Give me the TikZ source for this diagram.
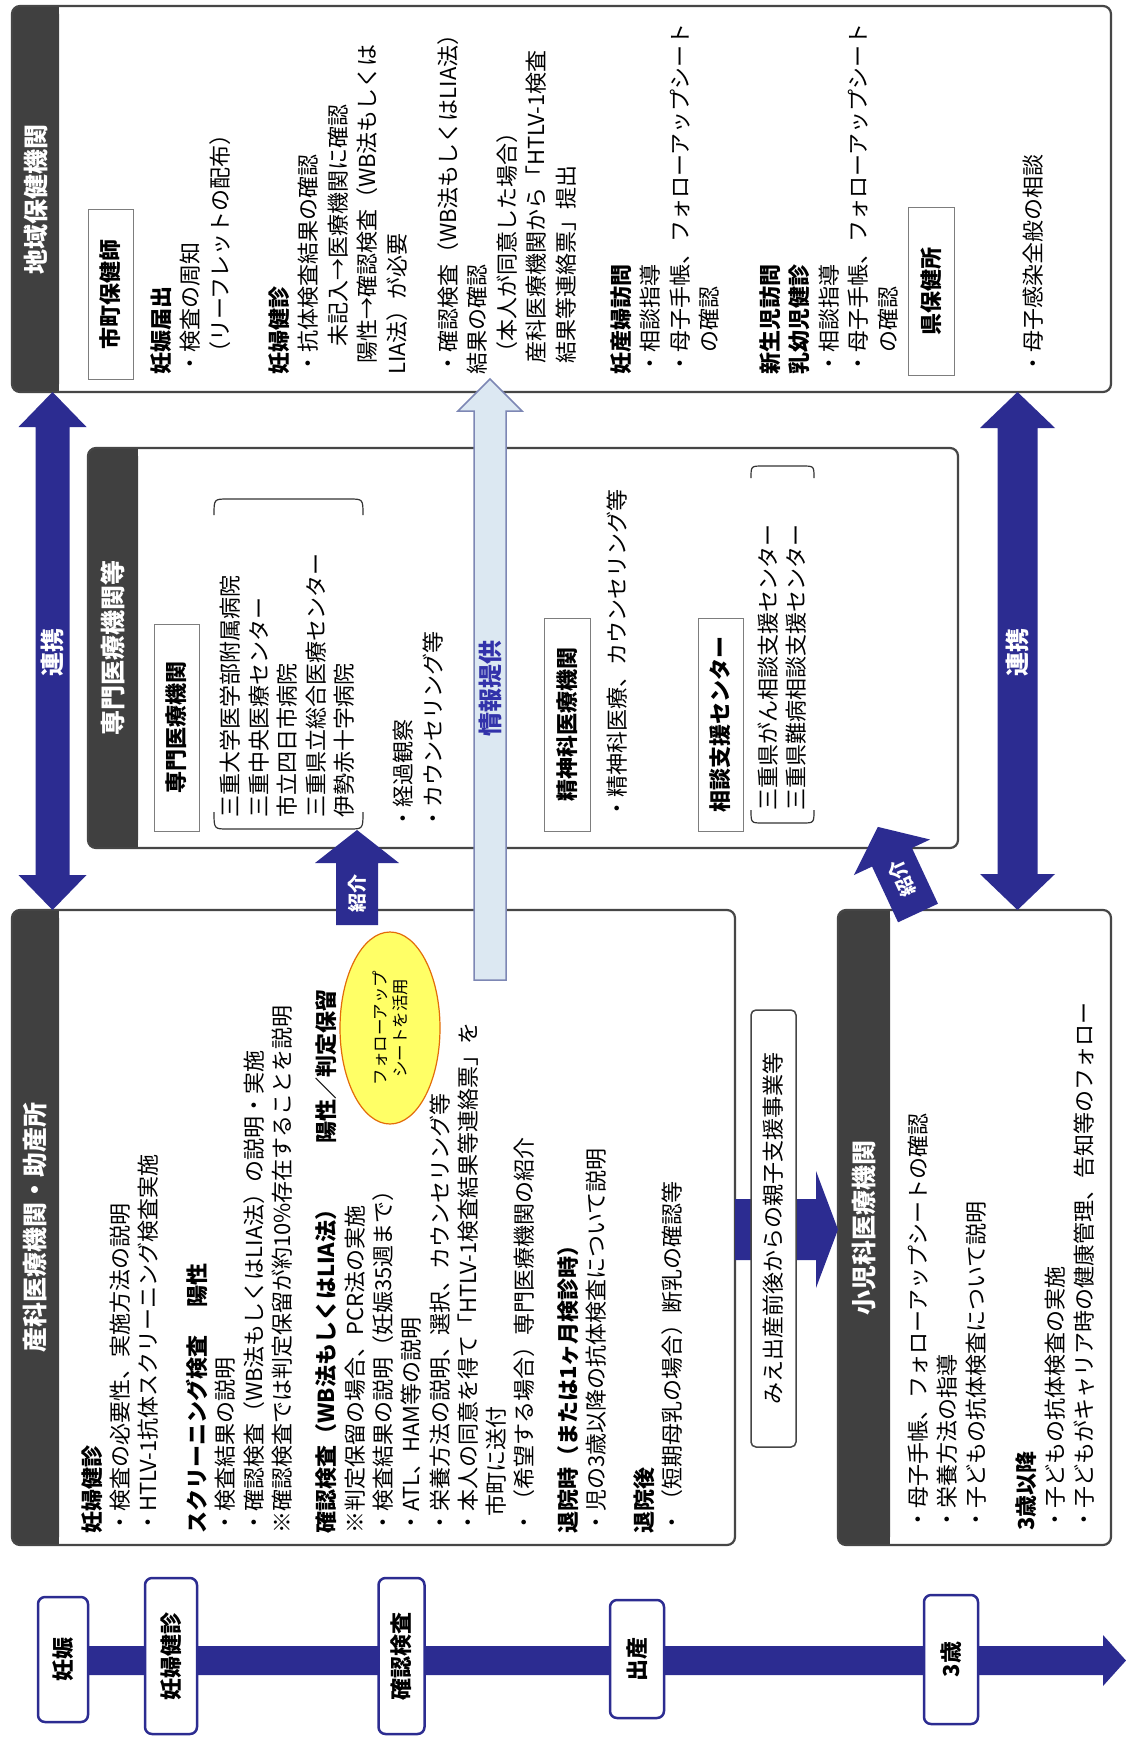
\documentclass[tikz,border=0pt]{standalone}
\usepackage{fontspec}
\setmainfont{Noto Sans CJK JP}
\usetikzlibrary{shapes.geometric}
\definecolor{hdr}{RGB}{64,64,64}
\definecolor{boxline}{RGB}{70,70,70}
\definecolor{navy}{RGB}{44,44,145}
\definecolor{infofill}{RGB}{220,232,242}
\definecolor{infoline}{RGB}{125,135,180}
\definecolor{infotext}{RGB}{50,50,170}
\definecolor{ellfill}{RGB}{255,255,102}
\definecolor{ellline}{RGB}{227,108,9}
\definecolor{lblline}{RGB}{125,125,125}
\newcommand{\bodyfont}[1]{\fontsize{22}{#1}\selectfont}
\newcommand{\panelbox}[7]{%
  \fill[white, rounded corners=8pt] (#2,#3) rectangle (#4,#5);
  \fill[hdr, rounded corners=8pt] (#2,#3) rectangle (#6,#5);
  \fill[hdr] ({#6-15},#3) rectangle (#6,#5);
  \draw[panelline] (#2,#3) rectangle (#4,#5);
  \coordinate (#1-nw) at (#2,#3);
  \coordinate (#1-se) at (#4,#5);
  \node[hdrtext] (#1-title) at ({(#2+#6)/2},{(#3+#5)/2}) {#7};
}
\begin{document}
\begin{tikzpicture}[x=1pt,y=-1pt,
  panelline/.style={draw=boxline, line width=2.2pt, rounded corners=8pt},
  hdrtext/.style={rotate=90, text=white, inner sep=0pt, font=\bfseries\fontsize{25}{28}\selectfont},
  body/.style={rotate=90, anchor=north west, inner sep=0pt, align=left, font=\bodyfont{29.5}},
  lbl/.style={draw=lblline, line width=1pt, fill=white, rotate=90, inner sep=0pt, font=\bfseries\fontsize{22}{26}\selectfont},
  brk/.style={draw=black!80, line width=1.2pt},
  arrowtext/.style={rotate=90, text=white, inner sep=0pt, font=\bfseries\fontsize{24}{26}\selectfont},
  smallarrowtext/.style={text=white, inner sep=0pt, font=\bfseries\fontsize{19}{22}\selectfont},
  tl/.style={draw=navy, line width=2.5pt, fill=white, rounded corners=7pt, rotate=90, inner sep=0pt, font=\bfseries\fontsize{22}{26}\selectfont}
]
\useasboundingbox (0,0) rectangle (1126,1738);
\fill[white] (0,0) rectangle (1126,1738);

% ---------- panels ----------
\panelbox{chiiki}{12}{6}{1111}{392}{59}{地域保健機関}
\panelbox{senmon}{88}{448}{958}{848}{138}{専門医療機関等}
\panelbox{sanka}{12}{910}{735}{1545}{59}{産科医療機関・助産所}
\panelbox{shoni}{838}{910}{1111}{1545}{890}{小児科医療機関}

% ---------- 地域保健機関 ----------
\node[lbl, minimum width=170pt, minimum height=45pt] (shicho) at (110.5,294) {市町保健師};
\node[body] (chiikiA) at (150,375) {%
\textbf{妊娠届出}\\
・検査の周知\\
\hspace*{0.5em}（リーフレットの配布）\\[29.5pt]
\textbf{妊婦健診}\\
・抗体検査結果の確認\\
\hspace*{1.3em}未記入→医療機関に確認\\
\hspace*{0.5em}陽性→確認検査（WB法もしくは\\
LIA法）が必要\\[21.5pt]
・確認検査（WB法もしくはLIA法）\\
結果の確認\\
\hspace*{0.5em}（本人が同意した場合）\\
\hspace*{0.5em}産科医療機関から「HTLV-1検査\\
\hspace*{0.5em}結果等連絡票」提出\\[25.5pt]
\textbf{妊産婦訪問}\\
・相談指導\\
・母子手帳、フォローアップシート\\
\hspace*{1em}の確認\\[31pt]
\textbf{新生児訪問}\\
\textbf{乳幼児健診}\\
・相談指導\\
・母子手帳、フォローアップシート\\
\hspace*{1em}の確認};
\node[lbl, minimum width=168pt, minimum height=46pt] (kenhoken) at (931,291) {県保健所};
\node[body] (chiikiB) at (1023,375) {・母子感染全般の相談};

% ---------- 専門医療機関等 ----------
\node[lbl, minimum width=207pt, minimum height=45pt] (senmonlbl) at (176.5,727.5) {専門医療機関};
\draw[brk] (214,515) .. controls (214,499) .. (228,499) -- (349,499) .. controls (363,499) .. (363,515);
\draw[brk] (214,812) .. controls (214,829) .. (228,829) -- (349,829) .. controls (363,829) .. (363,812);
\node[body, font=\bodyfont{28.5}] (list1) at (220,818) {三重大学医学部附属病院\\三重中央医療センター\\市立四日市病院\\三重県立総合医療センター\\伊勢赤十字病院};
\node[body, font=\bodyfont{30}] (senmonB) at (393,830) {・経過観察\\・カウンセリング等};
\node[lbl, minimum width=213pt, minimum height=46pt] (seishin) at (567,724.5) {精神科医療機関};
\node[body] (seishinB) at (607,820) {・精神科医療、カウンセリング等};
\node[lbl, minimum width=213pt, minimum height=45pt] (sodan) at (720.5,724.5) {相談支援センター};
\draw[brk] (751,478) .. controls (751,466) .. (763,466) -- (802,466) .. controls (814,466) .. (814,478);
\draw[brk] (751,810) .. controls (751,823) .. (763,823) -- (802,823) .. controls (814,823) .. (814,810);
\node[body, font=\bodyfont{28}] (list2) at (758,811) {三重県がん相談支援センター\\三重県難病相談支援センター};

% ---------- 産科医療機関・助産所 ----------
\node[body, font=\bodyfont{28.3}] (sankaA) at (81,1534) {%
\textbf{妊婦健診}\\
・検査の必要性、実施方法の説明\\
・HTLV-1抗体スクリーニング検査実施\\[20.7pt]
\textbf{スクリーニング検査\hspace{1.3em}陽性}\\
・検査結果の説明\\
・確認検査（WB法もしくはLIA法）の説明・実施\\
※確認検査では判定保留が約10\%存在することを説明\\[16pt]
\textbf{確認検査（WB法もしくはLIA法）\hspace{2.5em}陽性／判定保留}\\
※判定保留の場合、PCR法の実施\\
・検査結果の説明（妊娠35週まで）\\
・ATL、HAM等の説明\\
・栄養方法の説明、選択、カウンセリング等\\
・本人の同意を得て「HTLV-1検査結果等連絡票」を\\
\hspace*{0.8em}市町に送付\\
・（希望する場合）専門医療機関の紹介\\[15pt]
\textbf{退院時（または1ヶ月検診時）}\\
・児の3歳以降の抗体検査について説明\\[19.5pt]
\textbf{退院後}\\
・（短期母乳の場合）断乳の確認等};

% ---------- 小児科医療機関 ----------
\node[body, font=\bodyfont{29}] (shoniA) at (908,1531) {%
・母子手帳、フォローアップシートの確認\\
・栄養方法の指導\\
・子どもの抗体検査について説明\\[21pt]
\textbf{3歳以降}\\
・子どもの抗体検査の実施\\
・子どもがキャリア時の健康管理、告知等のフォロー};

% ---------- arrows ----------
% 連携 (left)
\fill[navy] (52.5,392) -- (86.5,427) -- (69.5,427) -- (69.5,875) -- (86.5,875) -- (52.5,910)
  -- (18.5,875) -- (35.5,875) -- (35.5,427) -- (18.5,427) -- cycle;
\node[arrowtext] (renkei1) at (52.5,652) {連携};
% 連携 (right)
\fill[navy] (1017.5,392) -- (1055,428) -- (1037.5,428) -- (1037.5,874) -- (1055,874) -- (1017.5,910)
  -- (980,874) -- (997.5,874) -- (997.5,428) -- (980,428) -- cycle;
\node[arrowtext] (renkei2) at (1017.5,652) {連携};
% 情報提供
\filldraw[fill=infofill, draw=infoline, line width=1.5pt] (490,379) -- (522,411) -- (506,411) -- (506,980)
  -- (474,980) -- (474,411) -- (458,411) -- cycle;
\node[rotate=90, text=infotext, inner sep=0pt, font=\bfseries\fontsize{24}{26}\selectfont] (joho) at (490,688) {情報提供};
% 紹介 (straight)
\fill[navy] (357,830) -- (399,863) -- (378,863) -- (378,925) -- (336,925) -- (336,863) -- (315,863) -- cycle;
\node[smallarrowtext, rotate=90] (shokai1) at (357,893) {紹介};
% 紹介 (tilted)
\begin{scope}[shift={(918,913)}, rotate=25]
  \fill[navy] (-22,0) -- (-22,-61.5) -- (-42,-61.5) -- (0,-95) -- (42,-61.5) -- (22,-61.5) -- (22,0) -- cycle;
  \node[smallarrowtext, rotate=115] (shokai2) at (0,-38) {紹介};
\end{scope}
% 産科 -> 小児科
\fill[navy] (735,1199) -- (816,1199) -- (816,1171) -- (838,1229.5) -- (816,1288) -- (816,1260) -- (735,1260) -- cycle;
\node[draw=boxline, line width=1.5pt, fill=white, rounded corners=5pt, rotate=90, inner sep=0pt,
  minimum width=437pt, minimum height=45pt, font=\fontsize{22}{26}\selectfont] (mie) at (773.5,1228.5) {みえ出産前後からの親子支援事業等};

% follow-up ellipse
\node[ellipse, draw=ellline, fill=ellfill, line width=1.2pt, minimum width=192pt, minimum height=100pt,
  rotate=90, inner sep=0pt, align=center, font=\fontsize{16.5}{20}\selectfont] (follow) at (390,1028) {フォローアップ\\シートを活用};

% ---------- timeline ----------
\fill[navy] (63,1646) -- (1103,1646) -- (1103,1635) -- (1126,1660.5) -- (1103,1686) -- (1103,1675) -- (63,1675) -- cycle;
\node[tl, minimum width=125pt, minimum height=50pt] (t1) at (63,1659.5) {妊娠};
\node[tl, minimum width=156pt, minimum height=52pt] (t2) at (171,1656) {妊婦健診};
\node[tl, minimum width=156pt, minimum height=46pt] (t3) at (401.5,1656) {確認検査};
\node[tl, minimum width=118pt, minimum height=54pt] (t4) at (637,1659) {出産};
\node[tl, minimum width=129pt, minimum height=54pt] (t5) at (951,1659.5) {3歳};
\end{tikzpicture}
\end{document}
